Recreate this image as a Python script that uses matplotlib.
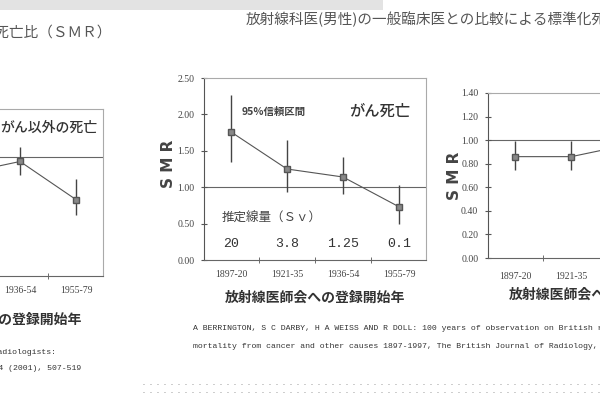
import numpy as np
import matplotlib.pyplot as plt
from matplotlib.lines import Line2D
from matplotlib.patches import Rectangle

plt.rcParams['font.family'] = ['Noto Sans CJK JP', 'DejaVu Sans']

periods = ["1897-20", "1921-35", "1936-54", "1955-79"]
doses = ["20", "3.8", "1.25", "0.1"]

# がん死亡
cancer_smr = [1.76, 1.25, 1.14, 0.73]
cancer_lo = [1.34, 0.94, 0.91, 0.50]
cancer_hi = [2.27, 1.65, 1.41, 1.03]

# がん以外の死亡
other_smr = [0.86, 0.86, 0.96, 0.64]
other_lo = [0.75, 0.75, 0.85, 0.51]
other_hi = [0.99, 0.99, 1.08, 0.81]

title = "放射線科医(男性)の一般臨床医との比較による標準化死亡比（ＳＭＲ）"
xlab = "放射線医師会への登録開始年"
cite1 = "A BERRINGTON, S C DARBY, H A WEISS AND R DOLL: 100 years of observation on British radiologists:"
cite2 = "mortality from cancer and other causes 1897-1997, The British Journal of Radiology, 74 (2001), 507-519"

W, H = 600, 397
fig = plt.figure(figsize=(6, 3.97), dpi=100)


def px_axes(left, right, top, bottom):
    return fig.add_axes([left / W, 1 - bottom / H, (right - left) / W, (bottom - top) / H])


def panel(ax, smr, lo, hi, ymax, ystep, xlab_y, xpad=7):
    x = np.arange(len(periods))
    ax.axhline(1.0, color='#666', lw=0.8, zorder=1)
    ax.vlines(x, lo, hi, color='#444', lw=1.0, zorder=2)
    ax.plot(x, smr, color='#555', lw=0.8, marker='s', ms=4.5,
            mfc='#888', mec='#555', zorder=3)
    ax.set_xlim(-0.48, 3.48)
    ax.set_ylim(0, ymax)
    yt = np.arange(0, ymax + 0.001, ystep)
    ax.set_yticks(yt, ["%.2f" % v for v in yt])
    ax.set_xticks(x, periods)
    ax.set_xticks([0.5, 1.5, 2.5], minor=True)
    ax.tick_params(axis='x', which='major', length=0, pad=xpad)
    ax.tick_params(axis='x', which='minor', length=5, direction='inout', color='#555')
    ax.tick_params(axis='y', length=4, direction='inout', color='#555', pad=5)
    for lab in ax.get_xticklabels() + ax.get_yticklabels():
        lab.set_family('Liberation Serif')
        lab.set_fontsize(7)
        lab.set_color('#444')
    ax.spines['left'].set_color('#555')
    ax.spines['bottom'].set_color('#666')
    ax.spines['top'].set_color('#aaa')
    ax.spines['right'].set_color('#aaa')
    for s in ax.spines.values():
        s.set_linewidth(0.8)
    ax.set_xlabel(xlab, fontsize=10, fontweight='bold', color='#333')
    ax.xaxis.set_label_coords(0.5, xlab_y)


# 左 (がん以外の死亡, 切れている)
ax_l = px_axes(-119, 103, 109, 276)
panel(ax_l, other_smr, other_lo, other_hi, 1.4, 0.2, -0.22)
ax_l.text(0.755, 0.885, "がん以外の死亡", transform=ax_l.transAxes, ha='center', va='center',
          fontsize=10, fontweight='medium', color='#333')

# 中央 (がん死亡)
ax_m = px_axes(204, 426, 78, 260)
panel(ax_m, cancer_smr, cancer_lo, cancer_hi, 2.5, 0.5, -0.17)
ax_m.text(-0.16, 0.53, "S M R", transform=ax_m.transAxes, rotation=90, ha='center', va='center',
          fontsize=11, fontweight='bold', color='#444', family='DejaVu Sans')
ax_m.text(0.79, 0.815, "がん死亡", transform=ax_m.transAxes, ha='center', va='center',
          fontsize=11, fontweight='medium', color='#333')
ax_m.text(0.313, 0.815, "95%信頼区間", transform=ax_m.transAxes, ha='center', va='center',
          fontsize=7.5, fontweight='bold', color='#444')
ax_m.text(0.306, 0.231, "推定線量（Ｓｖ）", transform=ax_m.transAxes, ha='center', va='center',
          fontsize=9, color='#444')
for i, d in enumerate(doses):
    ax_m.text(i, 0.22, d, ha='center', va='center', fontsize=9.5,
              family='Liberation Mono', color='#333')

# 右 (がん以外の死亡, 切れている)
ax_r = px_axes(488, 711, 93, 258)
panel(ax_r, other_smr, other_lo, other_hi, 1.4, 0.2, -0.18, xpad=10)
ax_r.text(-0.15, 0.5, "S M R", transform=ax_r.transAxes, rotation=90, ha='center', va='center',
          fontsize=11, fontweight='bold', color='#444', family='DejaVu Sans')

# タイトル
fig.add_artist(Rectangle((0, 1 - 10 / H), 383 / W, 10 / H, transform=fig.transFigure,
                         color='#e3e3e3', lw=0))
fig.text(112 / W, 1 - 32 / H, title, ha='right', va='center', fontsize=10.5, color='#555')
fig.text(246 / W, 1 - 19 / H, title, ha='left', va='center', fontsize=10.5, color='#555')

# 出典
fig.text(193 / W, 1 - 329 / H, cite1, ha='left', va='center', fontsize=5.9,
         family='Liberation Mono', color='#333')
fig.text(193 / W, 1 - 347 / H, cite2, ha='left', va='center', fontsize=5.9,
         family='Liberation Mono', color='#333')
fig.text(56 / W, 1 - 352 / H, cite1, ha='right', va='center', fontsize=5.9,
         family='Liberation Mono', color='#333')
fig.text(81 / W, 1 - 368 / H, cite2, ha='right', va='center', fontsize=5.9,
         family='Liberation Mono', color='#333')

# 点線
for yy in (384, 392):
    fig.add_artist(Line2D([143 / W, 1], [1 - yy / H, 1 - yy / H], transform=fig.transFigure,
                          color='#999', lw=0.7, linestyle=(0, (1, 6.2))))

fig.savefig('out.png', dpi=100)
